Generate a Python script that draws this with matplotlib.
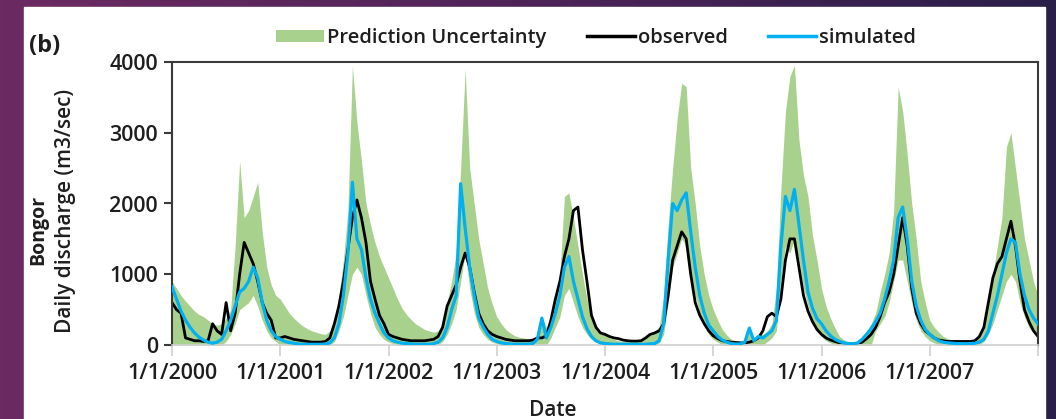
import numpy as np
import matplotlib
matplotlib.use("Agg")
import matplotlib.pyplot as plt
from matplotlib.patches import Rectangle, Patch
from matplotlib.lines import Line2D
from matplotlib.colors import LinearSegmentedColormap

plt.rcParams['font.family'] = ['Open Sans', 'DejaVu Sans']

# ---------------- data (semi-monthly readings, 24 per year, 2000-2007 + end point) -------------
years = [2000, 2001, 2002, 2003, 2004, 2005, 2006, 2007]
steps_per_year = 24

observed = [
    600, 500, 450, 100, 80, 60, 60, 50, 60, 300, 200, 150, 600, 200, 450, 1000, 1450, 1300, 1150, 900, 600, 450, 350, 100,
    100, 120, 100, 80, 70, 60, 50, 40, 40, 40, 50, 100, 300, 550, 900, 1350, 1800, 2050, 1800, 1450, 900, 650, 420, 300,
    150, 120, 100, 80, 70, 60, 60, 60, 60, 70, 80, 120, 250, 550, 700, 850, 1100, 1300, 1100, 750, 450, 300, 200, 150,
    120, 100, 80, 70, 60, 60, 60, 60, 70, 100, 100, 130, 350, 650, 900, 1250, 1500, 1900, 1950, 1350, 900, 420, 250, 170,
    150, 120, 100, 90, 70, 60, 55, 55, 60, 100, 150, 170, 200, 300, 700, 1200, 1400, 1600, 1500, 1000, 600, 420, 300, 200,
    130, 90, 60, 50, 40, 35, 30, 30, 40, 60, 100, 200, 400, 450, 400, 650, 1200, 1500, 1500, 1100, 700, 480, 330, 220,
    150, 100, 70, 50, 30, 20, 15, 15, 20, 40, 90, 150, 250, 400, 600, 750, 1000, 1400, 1800, 1400, 800, 450, 300, 200,
    150, 100, 70, 60, 50, 50, 50, 50, 50, 50, 60, 120, 250, 600, 950, 1150, 1250, 1500, 1750, 1400, 900, 500, 330, 200,
    120,
]

simulated = [
    820, 650, 480, 350, 250, 170, 110, 70, 40, 25, 40, 80, 200, 350, 550, 750, 800, 900, 1100, 950, 600, 350, 200, 120,
    80, 50, 35, 25, 15, 10, 10, 10, 10, 10, 15, 30, 100, 300, 700, 1300, 2300, 1500, 1350, 950, 650, 450, 300, 170,
    100, 60, 40, 25, 20, 15, 10, 10, 10, 10, 20, 40, 100, 250, 500, 700, 2280, 1650, 1100, 700, 380, 250, 150, 80,
    50, 30, 20, 15, 10, 10, 10, 10, 20, 80, 380, 100, 250, 450, 700, 1100, 1250, 900, 650, 400, 230, 120, 60, 30,
    20, 15, 10, 10, 10, 10, 10, 10, 10, 10, 15, 20, 60, 300, 1200, 2000, 1900, 2050, 2150, 1600, 1100, 700, 450, 280,
    200, 120, 70, 40, 20, 15, 15, 40, 240, 60, 120, 100, 150, 200, 350, 1400, 2100, 1900, 2200, 1700, 1200, 750, 520, 370,
    300, 200, 130, 80, 50, 30, 20, 15, 30, 80, 150, 230, 330, 450, 650, 900, 1200, 1800, 1950, 1500, 900, 550, 350, 220,
    150, 100, 60, 40, 30, 25, 20, 20, 20, 20, 25, 40, 80, 200, 450, 700, 1000, 1300, 1500, 1450, 1000, 700, 500, 380,
    300,
]

upper_95 = [
    900, 800, 700, 620, 550, 480, 430, 400, 350, 300, 280, 300, 380, 500, 1400, 2600, 1800, 1900, 2100, 2300, 1600, 1100, 850, 700,
    650, 550, 450, 380, 320, 270, 230, 200, 180, 160, 150, 200, 350, 700, 1200, 1900, 3950, 3150, 2600, 2000, 1700, 1450, 1250, 1100,
    950, 800, 650, 520, 430, 360, 300, 260, 220, 200, 180, 200, 300, 600, 900, 1300, 2500, 3900, 2500, 2000, 1500, 1150, 800, 580,
    400, 300, 220, 170, 130, 110, 100, 90, 80, 100, 400, 250, 350, 600, 1000, 2100, 2150, 1800, 1400, 1000, 650, 400, 250, 150,
    150, 100, 80, 60, 50, 50, 50, 50, 60, 100, 150, 200, 250, 700, 1700, 2500, 3200, 3700, 3650, 2500, 2000, 1400, 1000, 700,
    500, 350, 220, 140, 80, 60, 50, 80, 250, 100, 150, 150, 200, 300, 800, 2200, 3300, 3800, 3950, 2900, 2400, 2100, 1550, 1200,
    800, 550, 380, 240, 120, 70, 40, 30, 50, 120, 200, 300, 450, 750, 1000, 1300, 1900, 3650, 3300, 2700, 2000, 1500, 900, 600,
    350, 250, 180, 120, 90, 70, 60, 60, 60, 60, 80, 150, 300, 700, 1000, 1400, 1800, 2800, 3000, 2500, 2000, 1500, 1200, 900,
    700,
]

lower_95 = [
    0, 0, 0, 0, 0, 0, 0, 0, 0, 0, 0, 0, 50, 150, 300, 500, 550, 600, 700, 550, 350, 200, 100, 50,
    0, 0, 0, 0, 0, 0, 0, 0, 0, 0, 0, 0, 50, 200, 400, 700, 1000, 1100, 1000, 700, 450, 250, 150, 80,
    40, 20, 0, 0, 0, 0, 0, 0, 0, 0, 0, 0, 50, 150, 300, 500, 900, 1300, 800, 450, 250, 150, 80, 40,
    20, 0, 0, 0, 0, 0, 0, 0, 0, 0, 0, 0, 100, 250, 400, 700, 800, 600, 400, 250, 150, 80, 40, 20,
    0, 0, 0, 0, 0, 0, 0, 0, 0, 0, 0, 0, 30, 150, 600, 1100, 1300, 1500, 1400, 1000, 700, 450, 280, 150,
    80, 40, 0, 0, 0, 0, 0, 0, 0, 0, 0, 0, 50, 100, 200, 900, 1400, 1300, 1500, 1200, 800, 550, 350, 230,
    120, 60, 30, 0, 0, 0, 0, 0, 0, 0, 0, 0, 200, 300, 400, 600, 900, 1200, 1200, 900, 600, 350, 200, 120,
    60, 30, 0, 0, 0, 0, 0, 0, 0, 0, 0, 0, 50, 150, 300, 500, 700, 900, 1000, 900, 600, 400, 250, 180,
    150,
]

tick_labels = ["1/1/2000", "1/1/2001", "1/1/2002", "1/1/2003",
               "1/1/2004", "1/1/2005", "1/1/2006", "1/1/2007"]
y_ticks = [0, 1000, 2000, 3000, 4000]

# ---------------- figure -------------
W, H = 1056, 419
TXT = "#1e1e1e"
fig = plt.figure(figsize=(W / 100, H / 100), dpi=100)

# purple slide background with white panel
bg = fig.add_axes([0, 0, 1, 1], zorder=-10)
grad = np.linspace(0, 1, 256)[None, :]
cmap = LinearSegmentedColormap.from_list("slide", ["#6c2a62", "#4e2458", "#2a1f48"])
bg.imshow(grad, aspect="auto", cmap=cmap, extent=[0, 1, 0, 1])
bg.add_patch(Rectangle((24 / W, 0), (1045 - 24) / W, 1 - 7 / H, color="white", zorder=2))
bg.set_xlim(0, 1)
bg.set_ylim(0, 1)
bg.axis("off")

ax = fig.add_axes([172 / W, 1 - 345 / H, (1038 - 172) / W, (345 - 62) / H])
t = np.arange(len(observed)) / steps_per_year + years[0]

ax.fill_between(t, lower_95, upper_95, color="#a9d18e", linewidth=0, zorder=1)
ax.plot(t, observed, color="black", lw=2.0, zorder=2)
ax.plot(t, simulated, color="#00b0f0", lw=2.3, zorder=3)

ax.set_xlim(2000, 2008)
ax.set_ylim(0, 4000)
ax.set_xticks(list(range(2000, 2009)))
ax.set_xticklabels(tick_labels + [""])
ax.set_yticks(y_ticks)
ax.set_yticklabels([str(v) for v in y_ticks])
for lab in ax.get_xticklabels() + ax.get_yticklabels():
    lab.set_fontweight("semibold")

for s in ["left", "top", "right"]:
    ax.spines[s].set_color("#3a3a3a")
    ax.spines[s].set_linewidth(1.5)
ax.spines["bottom"].set_color("#d0d0d0")
ax.spines["bottom"].set_linewidth(1.2)
ax.tick_params(axis="x", colors="#d0d0d0", length=8, width=1.2, labelcolor=TXT,
               labelsize=15.5, pad=5)
ax.tick_params(axis="y", colors="#3a3a3a", length=6, width=1.5, labelcolor=TXT,
               labelsize=15.5, pad=4)

fig.text(553 / W, 1 - 410 / H, "Date", ha="center", va="center", fontsize=15,
         weight="semibold", color=TXT)
fig.text(38 / W, 1 - 230 / H, "Bongor", rotation=90, ha="center", va="center",
         fontsize=14, weight="bold", color=TXT)
fig.text(65 / W, 1 - 211 / H, "Daily discharge (m3/sec)", rotation=90, ha="center",
         va="center", fontsize=15, weight="semibold", color=TXT)
fig.text(45 / W, 1 - 46 / H, "(b)", ha="center", va="center", fontsize=17,
         weight="bold", color=TXT)

handles = [Patch(facecolor="#a9d18e", edgecolor="none"),
           Line2D([], [], color="black", lw=2.5),
           Line2D([], [], color="#00b0f0", lw=2.5)]
labels = ["Prediction Uncertainty", "observed", "simulated"]
leg = fig.legend(handles, labels, loc="center", bbox_to_anchor=(596 / W, 1 - 38 / H), ncol=3,
                 frameon=False, fontsize=14.5, handlelength=2.4, handleheight=0.55,
                 handletextpad=0.15, columnspacing=2.0, borderaxespad=0)
for tx in leg.get_texts():
    tx.set_fontweight("semibold")
    tx.set_color(TXT)

fig.savefig("out.png", dpi=100)
